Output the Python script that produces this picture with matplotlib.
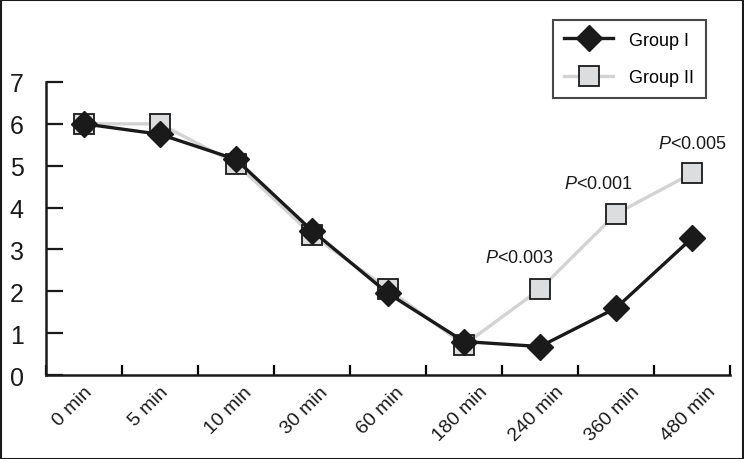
import matplotlib.pyplot as plt
import matplotlib.patches as mpatches
from matplotlib.transforms import ScaledTranslation
import numpy as np

plt.rcParams['font.family'] = ['Liberation Sans', 'DejaVu Sans']
plt.rcParams['mathtext.fontset'] = 'custom'
plt.rcParams['mathtext.rm'] = 'Liberation Sans'
plt.rcParams['mathtext.it'] = 'Liberation Sans:italic'

# Data
time_labels = ['0 min', '5 min', '10 min', '30 min', '60 min',
               '180 min', '240 min', '360 min', '480 min']
group1 = [6.0, 5.75, 5.15, 3.45, 1.95, 0.80, 0.68, 1.60, 3.27]
group2 = [6.0, 6.0, 5.05, 3.35, 2.05, 0.72, 2.05, 3.85, 4.82]
p_labels = ['0.003', '0.001', '0.005']
p_idx = [6, 7, 8]
# label placement offsets (points) relative to the group II marker
p_offsets = [(-15, 17), (-13, 16), (0, 15)]

fig = plt.figure(figsize=(7.44, 4.6), dpi=100)
ax = fig.add_axes([0.0618, 0.1826, 0.9194, 0.637])

x = np.arange(len(time_labels))

ax.plot(x, group2, color='#d3d3d3', lw=2.4, marker='s', ms=14,
        mfc='#dcdddf', mec='#1a1a1a', mew=1.3, label='Group II', zorder=2)
ax.plot(x, group1, color='#1a1a1a', lw=2.4, marker='D', ms=13,
        mfc='#1a1a1a', mec='#1a1a1a', label='Group I', zorder=3)

# p-value annotations above group II points
for i, p, off in zip(p_idx, p_labels, p_offsets):
    ax.annotate(r'$\it{P}$' + '<' + p, (x[i], group2[i]), xytext=off,
                textcoords='offset points', ha='center', va='bottom',
                fontsize=13, color='#1a1a1a')

ax.set_xlim(-0.5, len(time_labels) - 0.5)
ax.set_ylim(0, 7)
ax.set_yticks(range(8))
ax.tick_params(axis='y', labelsize=18, direction='in', length=12, width=1.6,
               pad=16, colors='#1a1a1a')

# category boundaries as ticks, rotated labels hung below each category
ax.set_xticks(np.arange(-0.5, len(time_labels)))
ax.set_xticklabels([])
ax.tick_params(axis='x', direction='in', length=7, width=1.6)
lbl_tr = ax.get_xaxis_transform() + ScaledTranslation(-0.34, -0.08, fig.dpi_scale_trans)
for xi, lab in zip(x, time_labels):
    ax.text(xi, 0, lab, transform=lbl_tr, rotation=45, ha='left', va='top',
            fontsize=14, color='#1a1a1a')

for s in ['top', 'right']:
    ax.spines[s].set_visible(False)
for s in ['left', 'bottom']:
    ax.spines[s].set_linewidth(1.8)
    ax.spines[s].set_color('#1a1a1a')

handles, labels = ax.get_legend_handles_labels()
leg = ax.legend(handles[::-1], labels[::-1], loc='upper right',
                bbox_to_anchor=(0.965, 1.212), borderaxespad=0, fontsize=13,
                frameon=True, fancybox=False, edgecolor='#1a1a1a',
                handlelength=2.7, labelspacing=1.15, borderpad=0.65,
                handletextpad=0.9)
leg.get_frame().set_linewidth(1.5)

# outer border
fig.patches.append(mpatches.Rectangle((0.001, 0.001), 0.998, 0.997,
                                      transform=fig.transFigure, fill=False,
                                      edgecolor='#1a1a1a', lw=1.5))

fig.savefig('out.png', dpi=100)
